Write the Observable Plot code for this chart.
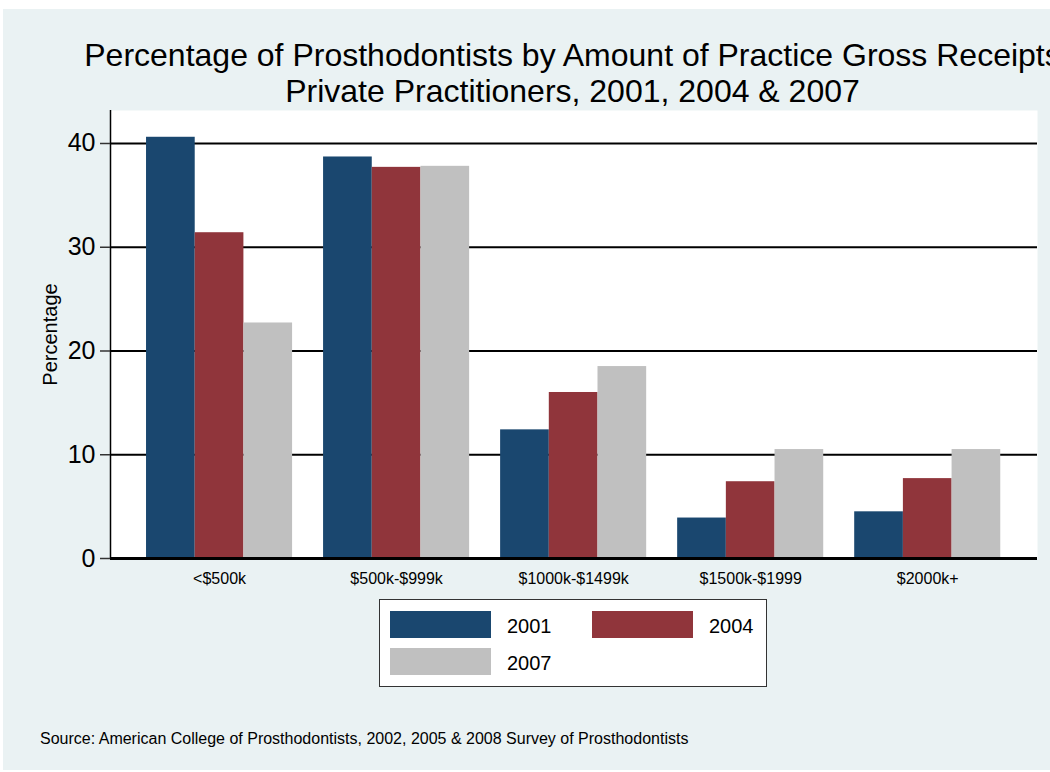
<!DOCTYPE html>
<html>
<head>
<meta charset="utf-8">
<script src="https://cdn.jsdelivr.net/npm/d3@7"></script>
<script src="https://cdn.jsdelivr.net/npm/@observablehq/plot@0.6"></script>
<style>
  html, body { margin: 0; padding: 0; background: #ffffff; overflow: hidden; }
  body { width: 1050px; height: 772px; position: relative; font-family: "Liberation Sans", Arial, sans-serif; }
  #panel { position: absolute; left: 3px; top: 9px; width: 1047px; height: 761px; background: #eaf2f3; overflow: hidden; }
  #title { position: absolute; left: -30.5px; width: 1200px; top: 28px; text-align: center; font-size: 32px; line-height: 36px; color: #000; white-space: nowrap; }
  #chart { position: absolute; left: 0; top: 0; }
  #legend { position: absolute; left: 376px; top: 590px; width: 386px; height: 86px; background: #fff; border: 1.5px solid #333; }
  .sw { position: absolute; width: 101px; height: 27px; }
  .lb { position: absolute; font-size: 20px; line-height: 27px; color: #000; }
  #caption { position: absolute; left: 37px; top: 721px; font-size: 16px; line-height: 18px; color: #000; white-space: nowrap; }
</style>
</head>
<body>
<div id="panel">
  <div id="title">Percentage of Prosthodontists by Amount of Practice Gross Receipts<br>Private Practitioners, 2001, 2004 &amp; 2007</div>
  <div id="chart"></div>
  <div id="legend"></div>
  <div id="caption">Source: American College of Prosthodontists, 2002, 2005 &amp; 2008 Survey of Prosthodontists</div>
</div>
<script>
const categories = ["<$500k", "$500k-$999k", "$1000k-$1499k", "$1500k-$1999", "$2000k+"];
const years = ["2001", "2004", "2007"];
const values2001 = [40.6, 38.7, 12.4, 3.9, 4.5];
const values2004 = [31.4, 37.7, 16.0, 7.4, 7.7];
const values2007 = [22.7, 37.8, 18.5, 10.5, 10.5];
const yTicks = [0, 10, 20, 30, 40];
const colors = ["#1a476f", "#90353b", "#c0c0c0"];

const series = [values2001, values2004, values2007];
const groupWidth = 0.825;
const barWidth = groupWidth / years.length;
const rows = [];
categories.forEach((c, i) => {
  years.forEach((yr, j) => {
    const x1 = i - groupWidth / 2 + j * barWidth;
    rows.push({category: c, index: i, year: yr, value: series[j][i], x1, x2: x1 + barWidth});
  });
});

const xDomain = [-0.616, categories.length - 1 + 0.62];

const chart = Plot.plot({
  width: 1047,
  height: 600,
  marginTop: 101,
  marginBottom: 51,
  marginLeft: 107,
  marginRight: 13,
  style: {fontFamily: '"Liberation Sans", Arial, sans-serif', background: "transparent", color: "#000"},
  x: {type: "linear", domain: xDomain, axis: null},
  y: {domain: [0, 43.18], axis: null},
  color: {domain: years, range: colors},
  marks: [
    Plot.frame({fill: "#ffffff", stroke: "none"}),
    Plot.ruleY(yTicks.filter(d => d > 0), {stroke: "#000", strokeWidth: 2.2}),
    Plot.rectY(rows, {x1: "x1", x2: "x2", y: "value", fill: "year"}),
    Plot.ruleY([0], {stroke: "#000", strokeWidth: 3}),
    Plot.ruleX([xDomain[0]], {stroke: "#000", strokeWidth: 1.5}),
    Plot.axisY({ticks: yTicks, tickSize: 10, tickPadding: 5, fontSize: 25, label: null, stroke: "#333", strokeWidth: 1.5}),
    Plot.axisX({ticks: d3.range(categories.length), tickFormat: i => categories[i], tickSize: 0, tickPadding: 14, fontSize: 16, label: null}),
    Plot.text(["Percentage"], {frameAnchor: "left", textAnchor: "middle", dx: -60, rotate: -90, fontSize: 20, fill: "#000"})
  ]
});
document.getElementById("chart").appendChild(chart);

const legend = document.getElementById("legend");
const pos = [[10, 11], [212, 11], [10, 48]];
years.forEach((yr, j) => {
  const sw = document.createElement("div");
  sw.className = "sw";
  sw.style.left = pos[j][0] + "px";
  sw.style.top = pos[j][1] + "px";
  sw.style.background = colors[j];
  legend.appendChild(sw);
  const lb = document.createElement("div");
  lb.className = "lb";
  lb.style.left = (pos[j][0] + 117) + "px";
  lb.style.top = (pos[j][1] + 2) + "px";
  lb.textContent = yr;
  legend.appendChild(lb);
});
</script>
</body>
</html>
